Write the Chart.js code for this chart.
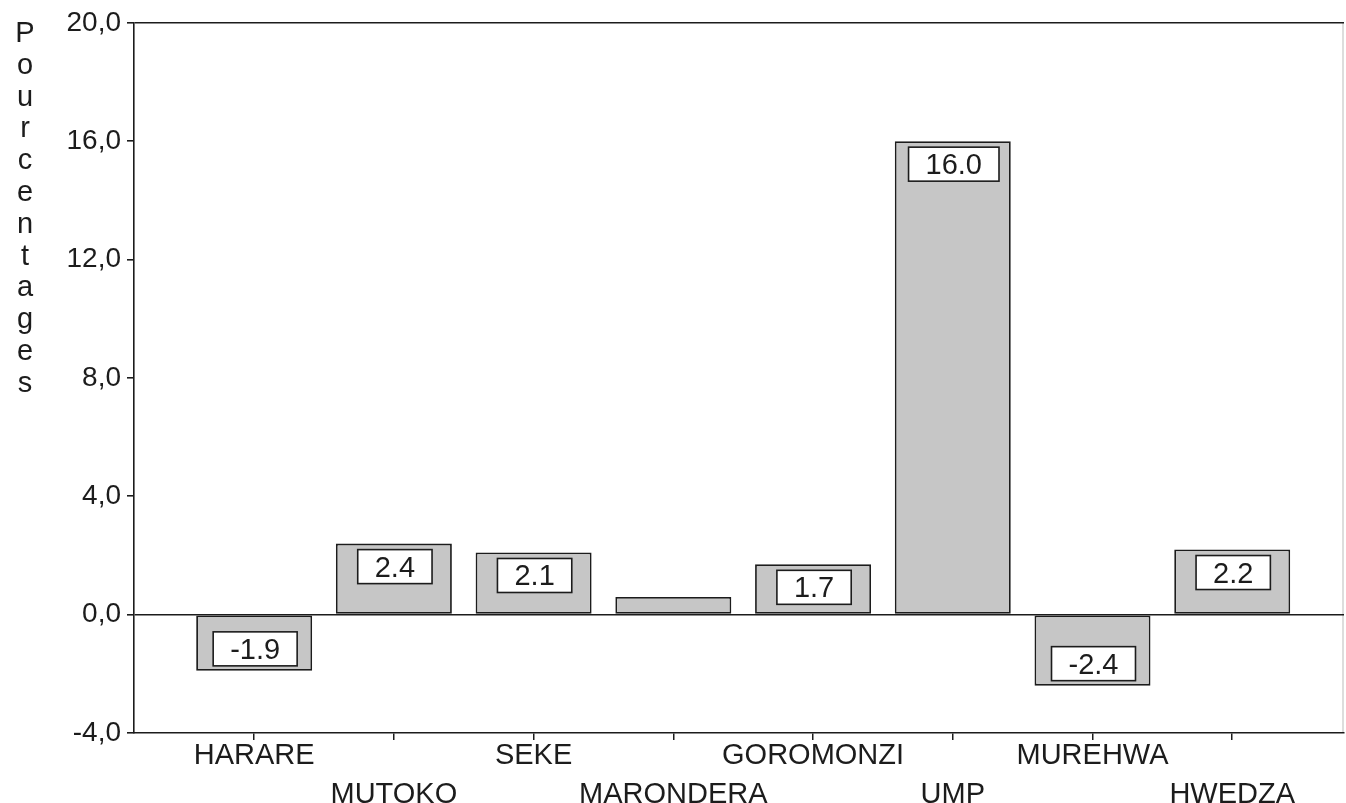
<!DOCTYPE html>
<html>
<head>
<meta charset="utf-8">
<script src="https://cdn.jsdelivr.net/npm/chart.js@4.4.1/dist/chart.umd.min.js"></script>
<style>
  html, body { margin: 0; padding: 0; background: #fff; }
  canvas { display: block; }
</style>
</head>
<body>
<canvas id="c" width="1346" height="803"></canvas>
<script>
// Districts and their percentage values
const districts = ['HARARE', 'MUTOKO', 'SEKE', 'MARONDERA', 'GOROMONZI', 'UMP', 'MUREHWA', 'HWEDZA'];
const percentages = [-1.9, 2.4, 2.1, 0.6, 1.7, 16.0, -2.4, 2.2];
const yTickValues = [-4, 0, 4, 8, 12, 16, 20];
const yTitle = 'Pourcentages';

const FONT = '"Liberation Sans", Arial, sans-serif';
const INK = '#1c1c1c';

// Y axis title written one letter per line
const stackedTitle = {
  id: 'stackedTitle',
  afterDraw(chart) {
    const ctx = chart.ctx;
    ctx.save();
    ctx.font = '29px ' + FONT;
    ctx.fillStyle = INK;
    ctx.textAlign = 'center';
    ctx.textBaseline = 'alphabetic';
    yTitle.split('').forEach((ch, i) => ctx.fillText(ch, 25, 42 + i * 31.8));
    ctx.restore();
  }
};

// Boxed value labels inside each bar
const valueBoxes = {
  id: 'valueBoxes',
  afterDatasetsDraw(chart) {
    const ctx = chart.ctx;
    const meta = chart.getDatasetMeta(0);
    ctx.save();
    ctx.font = '29px ' + FONT;
    meta.data.forEach((bar, i) => {
      const v = percentages[i];
      const top = Math.min(bar.y, bar.base);
      const bottom = Math.max(bar.y, bar.base);
      const boxH = 34;
      if (bottom - top < boxH + 12) return;
      const txt = v.toFixed(1);
      const w = ctx.measureText(txt).width + 34;
      const cx = bar.x + 1;
      const by = v >= 0 ? top + 6 : bottom - 5 - boxH;
      ctx.fillStyle = '#fff';
      ctx.fillRect(cx - w / 2, by, w, boxH);
      ctx.strokeStyle = INK;
      ctx.lineWidth = 1.6;
      ctx.strokeRect(cx - w / 2, by, w, boxH);
      ctx.fillStyle = INK;
      ctx.textAlign = 'center';
      ctx.textBaseline = 'middle';
      ctx.fillText(txt, cx, by + boxH / 2 + 2);
    });
    ctx.restore();
  }
};

// Faint right edge of the frame
const rightEdge = {
  id: 'rightEdge',
  beforeDatasetsDraw(chart) {
    const a = chart.chartArea;
    const ctx = chart.ctx;
    ctx.save();
    ctx.strokeStyle = 'rgba(0,0,0,0.18)';
    ctx.lineWidth = 1.5;
    ctx.beginPath();
    ctx.moveTo(a.right - 1, a.top);
    ctx.lineTo(a.right - 1, a.bottom);
    ctx.stroke();
    ctx.restore();
  }
};

new Chart(document.getElementById('c'), {
  type: 'bar',
  data: {
    datasets: [{
      data: percentages.map((v, i) => ({ x: i, y: v })),
      backgroundColor: '#c6c6c6',
      borderColor: INK,
      borderWidth: 1.8,
      borderSkipped: false,
      barPercentage: 0.83,
      categoryPercentage: 1
    }]
  },
  options: {
    responsive: false,
    devicePixelRatio: 1,
    animation: false,
    layout: { padding: { top: 18, right: 2, left: 0, bottom: 0 } },
    plugins: { legend: { display: false }, tooltip: { enabled: false } },
    scales: {
      x: {
        type: 'linear',
        offset: false,
        min: -0.86,
        max: 7.8,
        afterBuildTicks(axis) { axis.ticks = districts.map((_, i) => ({ value: i })); },
        afterFit(axis) { axis.height = 70; },
        ticks: {
          autoSkip: false,
          maxRotation: 0,
          minRotation: 0,
          padding: -3,
          color: INK,
          font: { family: FONT, size: 29, lineHeight: 1.33 },
          callback(value) {
            const i = Math.round(value);
            return i % 2 ? ['', districts[i]] : districts[i];
          }
        },
        grid: { offset: false, drawOnChartArea: false, drawTicks: true, tickLength: 7, tickColor: INK, lineWidth: 1.5 },
        border: { display: true, color: INK, width: 1.6 }
      },
      y: {
        min: -4,
        max: 20,
        afterBuildTicks(axis) { axis.ticks = yTickValues.map(v => ({ value: v })); },
        afterFit(axis) { axis.width = 134; },
        ticks: {
          padding: 6,
          color: INK,
          font: { family: FONT, size: 28 },
          callback(value) { return value.toFixed(1).replace('.', ','); }
        },
        grid: {
          drawOnChartArea: true,
          drawTicks: true,
          tickLength: 7,
          tickColor: INK,
          lineWidth: 1.6,
          color(ctx) { return (ctx.tick && (ctx.tick.value === 0 || ctx.tick.value === 20)) ? INK : 'rgba(0,0,0,0)'; }
        },
        border: { display: true, color: INK, width: 1.6 }
      }
    }
  },
  plugins: [rightEdge, valueBoxes, stackedTitle]
});
</script>
</body>
</html>
